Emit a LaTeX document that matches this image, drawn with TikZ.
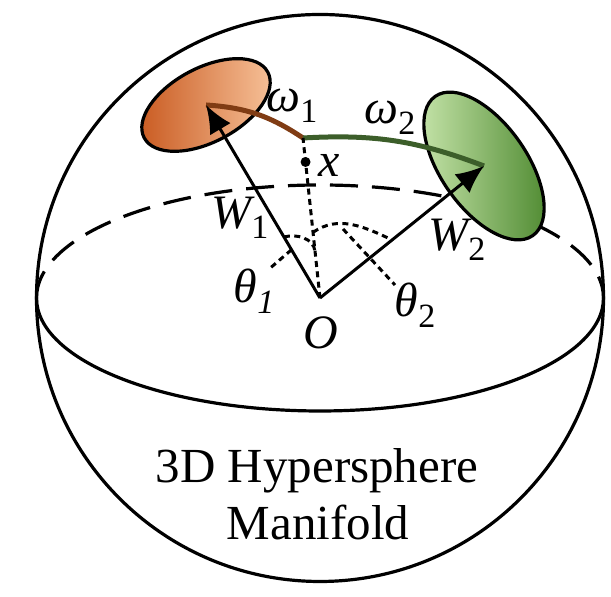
\documentclass[tikz,border=0pt]{standalone}
\usepackage{fontspec}
\setmainfont{Liberation Serif}
\usetikzlibrary{arrows.meta,positioning,calc}
\definecolor{capdark}{RGB}{200,88,30}
\definecolor{caplight}{RGB}{248,196,156}
\definecolor{leafdark}{RGB}{76,136,46}
\definecolor{leaflight}{RGB}{200,230,172}
\definecolor{pathbrown}{RGB}{128,60,20}
\definecolor{pathgreen}{RGB}{60,94,42}
\newcommand{\lsub}[1]{\raisebox{-0.22em}{\fontsize{17}{17}\selectfont\upshape #1}}

\begin{document}
\begin{tikzpicture}[x=0.5pt,y=0.5pt,lbl/.style={font=\fontsize{24}{26}\selectfont\itshape,inner sep=0pt},title/.style={font=\fontsize{24.5}{28}\selectfont,inner sep=0pt,anchor=base},rim/.style={line width=1.6pt},arr/.style={-{Latex[length=14pt,width=12pt]},line width=1.5pt},dots/.style={line width=1.5pt,dash pattern=on 3pt off 2.2pt},geo/.style={line width=2.5pt}]
\useasboundingbox (0,0) rectangle (611,597);
\coordinate (O) at (320,299);
\coordinate (A) at (206,492);
\coordinate (B) at (484,431);
\coordinate (J) at (303,459);
% sphere and equator
\draw[rim] (O) circle[radius=283.5];
\draw[rim,dash pattern=on 14pt off 7pt] ($(O)+(-283.5,0)$) arc[start angle=180,end angle=0,x radius=283.5,y radius=113];
\draw[rim] ($(O)+(283.5,0)$) arc[start angle=0,end angle=-180,x radius=283.5,y radius=113];
% the two caps
\begin{scope}[shift={(A)},rotate=28]
\draw[rim,left color=capdark,right color=caplight] (0,0) ellipse[x radius=70,y radius=37];
\end{scope}
\begin{scope}[shift={(B)},rotate=-55]
\draw[rim,left color=leaflight,right color=leafdark] (0,0) ellipse[x radius=85,y radius=43];
\end{scope}
% geodesic and angles
\draw[geo,pathbrown] (A) to[bend left=15] (J);
\draw[geo,pathgreen] (J) to[bend left=12] (B);
\draw[dots] (O) -- (J);
\coordinate (p1) at ($(O)!0.316!(A)$);
\coordinate (p2) at ($(O)!0.29!(J)$);
\coordinate (p3) at ($(O)!0.41!(J)$);
\coordinate (p4) at ($(O)!0.44!(B)$);
\coordinate (q1) at ($(O)!0.25!(A)$);
\coordinate (q1e) at (268,327);
\coordinate (q2) at (343,368);
\coordinate (q2e) at (395,312);
\draw[dots] (p1) to[out=15,in=96] (p2);
\draw[dots] (p3) to[out=35,in=155] (p4);
\draw[dots] (q1) -- (q1e);
\draw[dots] (q2) -- (q2e);
\coordinate (xp) at ($(O)!0.85!(J)$);
\fill (xp) circle[radius=5];
\draw[arr] (O) -- (A);
\draw[arr] (O) -- (B);
% labels
\node[lbl] (om1) at (292,491) {ω\lsub{1}};
\node[lbl] (om2) at (390,479) {ω\lsub{2}};
\node[lbl] (xl) at (329,432) {x};
\node[lbl] (w1) at (240,379) {W\lsub{1}};
\node[lbl] (w2) at (457,357) {W\lsub{2}};
\node[lbl] (th1) at (254,306) {θ\lsub{\itshape 1}};
\node[lbl] (th2) at (415,292) {θ\lsub{2}};
\node[lbl] (ol) at (321,264) {O};
\node[title] (t1) at (317,114) {3D Hypersphere};
\node[title] (t2) at (318,57) {Manifold};
\end{tikzpicture}
\end{document}
